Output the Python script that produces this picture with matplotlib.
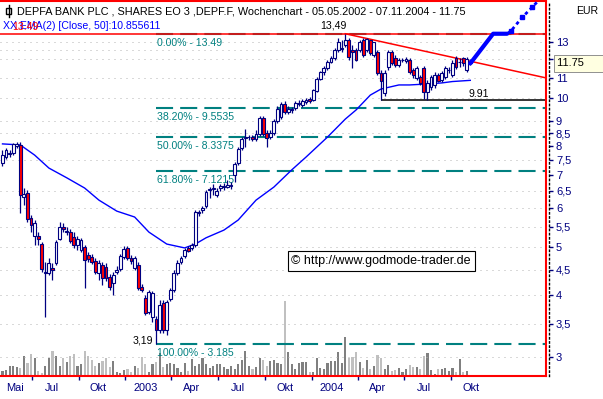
import matplotlib
matplotlib.use("Agg")
import matplotlib.pyplot as plt
from matplotlib.patches import Rectangle
from matplotlib.lines import Line2D
import numpy as np
import pandas as pd

# weekly candles, first week 05.05.2002
START = pd.Timestamp("2002-05-05")

opens = [7.39, 7.60, 7.71, 7.74, 8.00, 8.04, 6.31, 6.43, 5.72, 5.27,
         5.27, 5.07, 4.43, 4.43, 4.53, 4.64, 5.19, 5.49, 5.36, 5.36,
         5.24, 5.05, 4.93, 5.00, 4.82, 4.78, 4.68, 4.43, 4.60, 4.55,
         4.35, 4.23, 4.45, 4.51, 4.78, 4.98, 4.75, 4.53, 4.60, 4.15,
         3.94, 3.69, 3.61, 3.57, 3.40, 3.86, 3.40, 3.93, 4.09, 4.43,
         4.66, 4.80, 4.98, 4.98, 5.05, 5.86, 5.94, 6.05, 6.52, 6.55,
         6.37, 6.58, 6.61, 6.61, 6.64, 6.99, 7.39, 7.92, 8.30, 8.34,
         8.34, 8.27, 8.46, 9.11, 8.50, 8.34, 8.50, 8.99, 9.16, 9.72,
         9.37, 9.46, 9.55, 9.72, 9.68, 9.82, 9.96, 9.91, 10.33, 10.93,
         11.29, 11.50, 11.83, 12.05, 12.51, 12.57, 12.80, 13.10, 12.51, 12.51,
         12.51, 13.10, 12.51, 13.10, 12.22, 12.39, 11.24, 10.24, 11.56, 12.39,
         12.05, 11.66, 11.94, 11.89, 11.94, 11.40, 10.98, 11.03, 11.50, 10.29,
         10.52, 10.63, 11.13, 10.88, 11.03, 11.40, 11.13, 12.05, 11.83, 12.05,
         11.40, 11.83]
highs = [7.85, 7.92, 7.85, 8.11, 8.15, 8.15, 6.58, 6.52, 5.80, 5.67,
         5.36, 5.12, 4.66, 4.75, 4.64, 5.17, 5.62, 5.59, 5.49, 5.44,
         5.36, 5.27, 5.22, 5.05, 4.89, 4.84, 4.75, 4.71, 4.66, 4.64,
         4.41, 4.45, 4.58, 4.84, 5.02, 5.02, 4.82, 4.80, 4.66, 4.21,
         4.00, 4.09, 4.08, 3.63, 3.91, 3.91, 3.91, 4.13, 4.49, 4.71,
         4.80, 4.98, 5.02, 5.10, 5.94, 5.94, 6.05, 6.52, 6.61, 6.70,
         6.58, 6.70, 6.73, 6.83, 6.76, 7.43, 7.96, 8.34, 8.66, 8.42,
         8.42, 8.62, 9.20, 9.20, 8.62, 8.62, 9.07, 9.64, 9.81, 9.86,
         9.64, 9.59, 9.86, 9.91, 9.96, 10.00, 10.05, 10.43, 11.03, 11.35,
         11.61, 11.94, 12.16, 12.63, 13.23, 13.10, 13.49, 13.23, 12.80, 12.63,
         13.10, 13.20, 13.20, 13.10, 13.00, 12.51, 11.40, 11.40, 12.51, 12.51,
         12.22, 12.05, 12.05, 12.10, 12.05, 11.50, 11.61, 11.13, 11.61, 10.88,
         11.13, 11.29, 11.24, 11.35, 11.61, 11.56, 11.94, 12.16, 12.05, 12.10,
         12.10, 12.00]
lows = [7.29, 7.53, 7.60, 7.67, 7.92, 5.86, 6.08, 5.62, 5.36, 5.05,
        5.05, 4.45, 3.61, 4.39, 4.29, 4.60, 5.17, 5.36, 5.29, 5.10,
        4.98, 4.93, 4.89, 4.13, 4.66, 4.62, 4.41, 4.29, 4.19, 4.27,
        4.09, 4.00, 4.41, 4.47, 4.73, 4.71, 4.62, 4.49, 4.09, 4.06,
        3.64, 3.66, 3.53, 3.19, 3.35, 3.35, 3.32, 3.89, 4.06, 4.39,
        4.62, 4.75, 4.89, 4.93, 5.00, 5.78, 5.86, 6.00, 6.28, 6.37,
        6.31, 6.49, 6.52, 6.58, 6.55, 6.76, 7.32, 7.85, 7.96, 8.23,
        8.19, 8.19, 8.38, 8.38, 7.96, 8.27, 8.42, 8.91, 9.07, 9.29,
        9.29, 9.33, 9.46, 9.64, 9.59, 9.72, 9.77, 9.86, 10.29, 10.88,
        11.13, 11.40, 11.78, 11.94, 12.39, 12.39, 12.69, 11.94, 11.50, 11.89,
        12.39, 12.10, 12.39, 12.22, 12.10, 11.13, 9.91, 10.10, 11.40, 11.66,
        11.56, 11.56, 11.83, 11.78, 11.18, 10.98, 10.88, 10.63, 9.95, 9.91,
        10.38, 10.48, 10.78, 10.78, 10.93, 11.24, 11.03, 11.45, 11.56, 11.61,
        11.29, 11.66]
closes = [7.67, 7.85, 7.74, 8.08, 8.08, 6.37, 6.40, 5.70, 5.54, 5.59,
          5.19, 4.51, 4.45, 4.64, 4.49, 5.12, 5.49, 5.44, 5.39, 5.15,
          5.05, 5.19, 5.17, 4.71, 4.73, 4.66, 4.45, 4.64, 4.33, 4.33,
          4.15, 4.39, 4.49, 4.80, 4.96, 4.75, 4.68, 4.75, 4.13, 4.09,
          3.68, 4.06, 4.04, 3.40, 3.82, 3.40, 3.87, 4.09, 4.43, 4.64,
          4.75, 4.93, 4.91, 5.05, 5.89, 5.89, 6.00, 6.46, 6.55, 6.58,
          6.49, 6.64, 6.64, 6.67, 6.67, 7.36, 7.89, 8.27, 8.34, 8.36,
          8.27, 8.46, 9.11, 8.46, 8.30, 8.50, 8.99, 9.50, 9.72, 9.37,
          9.50, 9.50, 9.77, 9.77, 9.86, 9.91, 9.86, 10.38, 10.93, 11.29,
          11.50, 11.83, 12.05, 12.51, 12.98, 12.63, 13.10, 12.10, 12.39, 11.94,
          12.98, 12.22, 13.16, 12.33, 12.98, 11.24, 10.83, 11.24, 12.39, 11.78,
          11.66, 11.94, 11.95, 12.00, 11.29, 11.13, 11.50, 10.73, 10.29, 10.73,
          11.03, 11.13, 10.83, 11.24, 11.50, 11.41, 11.78, 11.56, 11.83, 11.78,
          12.00, 11.75]
# volume, arbitrary units (10k shares)
volume = [5, 6, 10, 10, 9, 8, 20, 13, 22, 18, 5, 3, 10, 18, 25, 20, 10, 18, 14, 20,
          22, 10, 12, 25, 20, 16, 10, 13,
          15, 18, 9, 15, 4, 3, 6, 7, 4, 10, 8, 19, 12, 4, 12, 14, 23, 9, 12, 13,
          12, 8, 4, 13, 5, 17, 10, 12, 18, 12, 8, 10, 12, 12, 9, 7, 10, 7, 12, 16,
          25, 10, 7, 9, 18, 16, 10, 15, 16, 13, 12, 75, 24, 12, 7, 13,
          14, 14, 4, 4, 18, 8, 7, 13, 15, 15, 24, 13, 39, 18, 19, 24, 14, 8, 16, 7,
          10, 21, 18, 7, 11, 5, 6, 8, 4, 7, 11, 9, 9, 7, 20, 23, 6, 2, 7, 7,
          8, 5, 8, 4, 17, 4, 5, 1]

# EMA(50) at some weeks
ema_week = [0, 5, 9, 13, 18, 23, 27, 32, 37, 41, 46, 51, 54, 57, 62, 66, 71, 76,
            81, 85, 91, 96, 99, 103, 106, 111, 114, 119, 123, 126, 131]
ema_vals = [8.08, 8.04, 7.67, 7.22, 6.90, 6.58, 6.22, 5.91, 5.75, 5.36, 5.07, 4.98,
            5.07, 5.22, 5.41, 5.67, 6.22, 6.61, 7.16, 7.60, 8.34, 9.07, 9.46, 10.14,
            10.43, 10.63, 10.63, 10.68, 10.73, 10.80, 10.86]

# fibonacci retracement from the 3.185 low to the 13.49 high
fib_names = ["0.00%", "38.20%", "50.00%", "61.80%", "100.00%"]
fib_levels = [13.49, 9.5535, 8.3375, 7.1215, 3.185]
fib_texts = ["13.49", "9.5535", "8.3375", "7.1215", "3.185"]
fib_start_week = 43

high_week, high_val = 96, 13.49
low_week, low_val = 43, 3.19
support_week, support_val = 106, 9.91
resist_level = 13.45
trend_pts = [(96, 13.49), (131, 11.87)]

proj_week = [131, 137.4, 141.3]
proj_vals = [11.75, 13.49, 13.49]
proj2_week = [141.3, 142.4, 145.5, 148.3, 151]
proj2_vals = [13.49, 13.67, 14.55, 15.25, 16.0]

y_ticks = [3, 3.5, 4, 4.5, 5, 5.5, 6, 6.5, 7, 7.5, 8, 8.5, 9, 10, 11, 12, 13]
grid_levels = [3, 3.5, 4, 4.5, 5, 5.5, 6, 6.5, 7.5, 8.5, 9, 10, 11, 12, 12.5, 13]
q_ticks = ["2002-07-01", "2002-10-01", "2003-01-01", "2003-04-01", "2003-07-01",
           "2003-10-01", "2004-01-01", "2004-04-01", "2004-07-01", "2004-10-01"]
q_labels = ["Jul", "Okt", "2003", "Apr", "Jul", "Okt", "2004", "Apr", "Jul", "Okt"]
first_label = "Mai"

title = "DEPFA BANK PLC , SHARES EO 3 ,DEPF.F, Wochenchart - 05.05.2002 - 07.11.2004 - 11.75"
ema_title = "XX EMA(2) [Close, 50]:10.855611"
last_price = 11.75

NAVY = "#000080"
TEAL = "#008080"
RED = "#ff0000"
BLUE = "#0000ff"
FS = 7.6
plt.rcParams["font.family"] = ["Liberation Sans", "DejaVu Sans"]

W, H = 603, 399
fig = plt.figure(figsize=(W / 100, H / 100), dpi=100)
fig.patch.set_facecolor("white")

def fx(px):
    return px / W

def fy(py):
    return 1 - py / H

XMIN, XMAX = -0.7, 152.2
YMIN, YMAX = 2.744, 15.71

ax = fig.add_axes([0, 23 / H, 546 / W, 375 / H])
axv = ax.twinx()
ax.set_zorder(2)
ax.patch.set_visible(False)
axv.set_zorder(1)

ax.set_yscale("log")
ax.set_xlim(XMIN, XMAX)
ax.set_ylim(YMIN, YMAX)

# volume underneath
x = np.arange(len(closes))
o, h, l, c = (np.array(v) for v in (opens, highs, lows, closes))
up = c >= o
axv.bar(x, volume, width=0.6, color=np.where(up, "#808080", "#c0c0c0"), linewidth=0)
axv.set_ylim(0, 375)
axv.set_xlim(XMIN, XMAX)
axv.set_yticks([])
for s in axv.spines.values():
    s.set_visible(False)

# grid
for g in grid_levels:
    ax.axhline(g, color="#b4b4b4", lw=0.72, ls=(0, (1, 5)), zorder=0)

# fib lines
for name, lev, txt in zip(fib_names, fib_levels, fib_texts):
    ax.hlines(lev, fib_start_week, XMAX, color=TEAL, lw=1.5, linestyles=[(0, (8.2, 3.4))], zorder=2)
    ax.annotate(f"{name} - {txt}", xy=(fib_start_week, lev), xytext=(1, -3),
                textcoords="offset points", ha="left", va="top", color=TEAL, fontsize=FS)

# horizontal lines
ax.axhline(resist_level, color=RED, lw=1.1, zorder=2)
ax.hlines(support_val, support_week, XMAX, color="black", lw=1.1, zorder=2)

# falling trend line, extended to the right edge in log space
(tx1, ty1), (tx2, ty2) = trend_pts
t_end = ty1 * (ty2 / ty1) ** ((XMAX - tx1) / (tx2 - tx1))
ax.plot([tx1, XMAX], [ty1, t_end], color=RED, lw=1.1, zorder=2)

# EMA
ax.plot(ema_week, ema_vals, color=BLUE, lw=1.0, zorder=3)

# candles
ax.vlines(x, l, h, color=NAVY, lw=0.9, zorder=3)
ax.bar(x, np.abs(c - o), bottom=np.minimum(o, c), width=0.8,
       color=np.where(up, "white", RED), edgecolor=NAVY, linewidth=0.8, zorder=4)

# projection
ax.plot(proj_week, proj_vals, color=BLUE, lw=3, solid_capstyle="round", zorder=5)
ax.plot(proj2_week, proj2_vals, color=BLUE, lw=2, ls=(0, (1.2, 1.2)), marker="s",
        markersize=3, markevery=[1, 2, 3], zorder=5)

# labels for high / low / support
ax.annotate(f"{high_val:.2f}".replace(".", ","), xy=(high_week, high_val), xytext=(1, 2),
            textcoords="offset points", ha="right", va="bottom", fontsize=FS, color="black")
ax.annotate(f"{low_val:.2f}".replace(".", ","), xy=(low_week, low_val), xytext=(-2, 2),
            textcoords="offset points", ha="right", va="center", fontsize=FS, color="black")
ax.annotate(f"{support_val:.2f}", xy=(130.4, support_val), xytext=(0, 1),
            textcoords="offset points", ha="left", va="bottom", fontsize=FS, color="black")

ax.text(0.698, 0.307, "\u00a9 http://www.godmode-trader.de", transform=ax.transAxes,
        ha="center", va="center", fontsize=9, color="black", zorder=6,
        bbox=dict(boxstyle="square,pad=0.3", fc="white", ec="black", lw=0.8))

# frame
for side in ["top", "right", "bottom"]:
    ax.spines[side].set_color(RED)
    ax.spines[side].set_linewidth(1.5)
ax.spines["left"].set_visible(False)
ax.set_yticks([])
ax.yaxis.set_minor_locator(matplotlib.ticker.NullLocator())

# x ticks at quarter starts
weeks_of = lambda d: (pd.Timestamp(d) - START).days / 7
q_pos = [weeks_of(d) for d in q_ticks]
ax.set_xticks(q_pos)
ax.set_xticklabels([])
ax.tick_params(axis="x", direction="out", length=3, width=1, color=NAVY)
lab_tr = ax.get_xaxis_transform()
ax.text(q_pos[0] - 33 / 7, -0.032, first_label, transform=lab_tr, ha="center", va="center",
        fontsize=7.9, color=NAVY)
for p, lab in zip(q_pos, q_labels):
    ax.text(p + 39 / 7, -0.032, lab, transform=lab_tr, ha="center", va="center",
            fontsize=7.9, color=NAVY)

# right price scale
ax2 = fig.add_axes([546 / W, 23 / H, 3 / W, 375 / H])
ax2.set_yscale("log")
ax2.set_ylim(YMIN, YMAX)
ax2.set_xticks([])
for side in ["top", "left", "bottom"]:
    ax2.spines[side].set_visible(False)
ax2.spines["right"].set_linestyle((0, (1, 2)))
ax2.spines["right"].set_linewidth(1)
ax2.patch.set_visible(False)
ax2.yaxis.tick_right()
ax2.yaxis.set_minor_locator(matplotlib.ticker.NullLocator())
ax2.set_yticks(y_ticks)
ax2.set_yticklabels([f"{t:g}".replace(".", ",") for t in y_ticks])
ax2.tick_params(axis="y", direction="out", length=3, width=1, color=NAVY, labelcolor=NAVY,
                labelsize=8, pad=2)
ax2.annotate(f"{last_price:.2f}     ", xy=(1, last_price), xycoords=ax2.get_yaxis_transform(),
             xytext=(6, 0), textcoords="offset points", ha="left", va="center",
             fontsize=8, color="black",
             bbox=dict(boxstyle="square,pad=0.3", fc="#ffffe1", ec="#909090", lw=0.7))

# header texts
fig.text(fx(17), fy(11), title, ha="left", va="center", fontsize=7.8, color="black")
fig.text(fx(3), fy(26), ema_title, ha="left", va="center", fontsize=FS, color=BLUE)
fig.text(fx(12), fy(27), "13.49", ha="left", va="center", fontsize=FS, color=RED)
fig.text(fx(587), fy(11), "EUR", ha="center", va="center", fontsize=FS, color="black")
fig.add_artist(Line2D([fx(8.5), fx(8.5)], [fy(5), fy(17)], color="black", lw=1))
fig.add_artist(Rectangle((fx(6), fy(14)), 5 / W, 6 / H, fc="white", ec="black", lw=1))

fig.savefig("out.png", dpi=100)
